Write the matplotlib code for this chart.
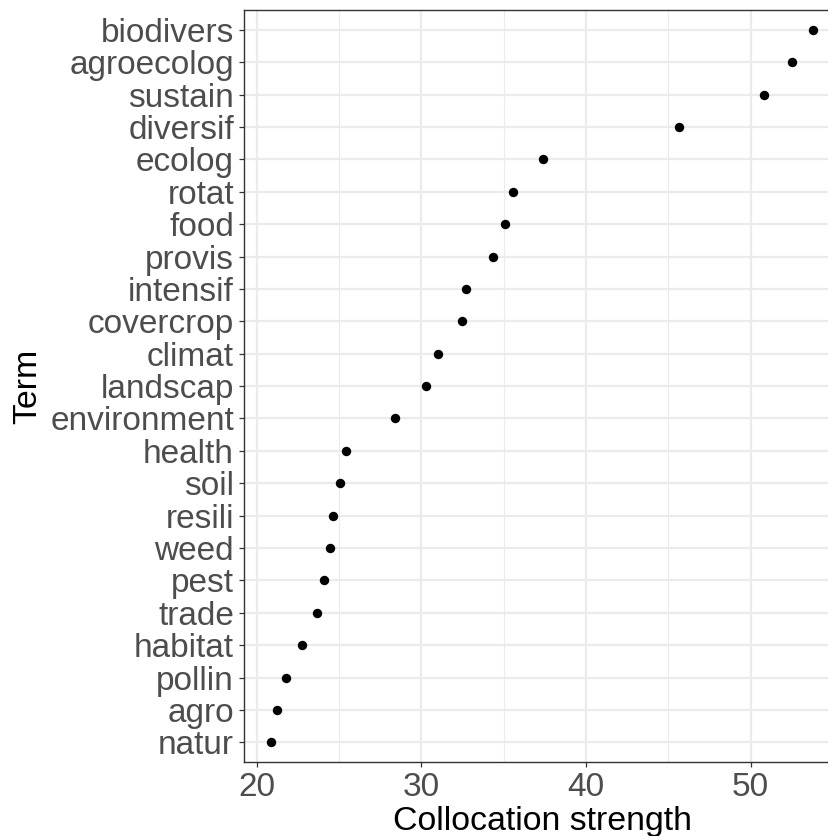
"""Dot plot of collocation strength per term (ggplot theme_bw look)."""

import matplotlib

matplotlib.use("Agg")
import matplotlib.pyplot as plt
from matplotlib.ticker import MultipleLocator

plt.rcParams["font.family"] = ["Liberation Sans", "DejaVu Sans"]

# terms listed bottom -> top, as they sit on the y axis
terms = [
    "natur", "agro", "pollin", "habitat", "trade", "pest", "weed", "resili",
    "soil", "health", "environment", "landscap", "climat", "covercrop",
    "intensif", "provis", "food", "rotat", "ecolog", "diversif", "sustain",
    "agroecolog", "biodivers",
]
strength = [
    20.90, 21.25, 21.78, 22.75, 23.68, 24.10, 24.43, 24.67,
    25.09, 25.44, 28.39, 30.29, 31.02, 32.49,
    32.69, 34.37, 35.06, 35.57, 37.37, 45.67, 50.80,
    52.50, 53.78,
]
x_ticks = [20, 30, 40, 50]

W, H = 829, 836
fig = plt.figure(figsize=(W / 100, H / 100), dpi=100)
fig.patch.set_facecolor("white")

# panel in pixel terms; right side runs past the image edge like the source
left, right, top, bottom = 244.3, 840.0, 10.3, 761.9
ax = fig.add_axes([left / W, (H - bottom) / H, (right - left) / W, (bottom - top) / H])
ax.set_facecolor("white")

ypos = list(range(len(terms)))
ax.scatter(strength, ypos, s=46, color="black", zorder=3, linewidths=0)

lo, hi = min(strength), max(strength)
span = hi - lo
ax.set_xlim(lo - 0.05 * span, hi + 0.05 * span)
ax.set_ylim(-0.6, len(terms) - 1 + 0.6)

ax.set_xticks(x_ticks)
ax.xaxis.set_minor_locator(MultipleLocator(5))
ax.set_yticks(ypos)
ax.set_yticklabels(terms)

ax.grid(which="major", color="#EBEBEB", linewidth=1.6, zorder=0)
ax.grid(which="minor", axis="x", color="#EBEBEB", linewidth=0.8, zorder=0)
ax.set_axisbelow(True)

for side in ax.spines.values():
    side.set_color("#333333")
    side.set_linewidth(1.0)

ax.tick_params(axis="both", which="major", colors="#333333", length=3.5, width=0.9,
               labelsize=24, labelcolor="#4D4D4D", pad=4)
ax.tick_params(axis="x", which="minor", length=0)

fig.text((left + right) / 2 / W, (H - 830) / H, "Collocation strength",
         ha="center", va="baseline", fontsize=24.4, color="black")
fig.text(28 / W, (H - (top + bottom) / 2) / H, "Term", rotation=90,
         ha="center", va="center", fontsize=24.4, color="black")

fig.savefig("out.png", dpi=100, facecolor=fig.get_facecolor())
plt.close(fig)
